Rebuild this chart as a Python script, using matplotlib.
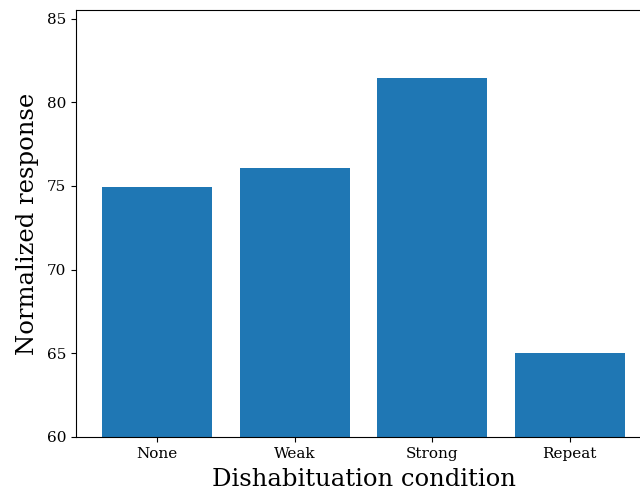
import numpy as np
import matplotlib.pyplot as plt

plt.rcParams['font.family'] = 'DejaVu Serif'

conditions = ["None", "Weak", "Strong", "Repeat"]
responses = [74.94, 76.07, 81.43, 65.0]

fig = plt.figure(figsize=(6.4, 4.94), dpi=100)
ax = fig.add_axes([0.119, 0.1154, 0.898, 0.864])

x = np.arange(len(conditions))
ax.bar(x, responses, width=0.8, color="#1f77b4")
ax.set_xticks(x)
ax.set_xticklabels(conditions, fontsize=11)
ax.tick_params(axis='y', labelsize=11)
ax.set_ylim(60, max(responses) * 1.05)
ax.set_xlabel("Dishabituation condition", fontsize=17.5, labelpad=5)
ax.set_ylabel("Normalized response", fontsize=17.5, labelpad=6)
ax.spines['right'].set_visible(False)

plt.savefig("out.png", dpi=100)
